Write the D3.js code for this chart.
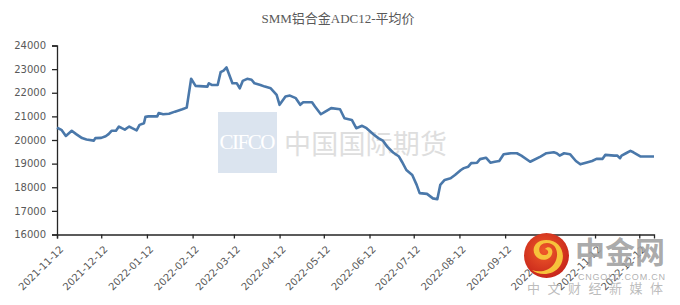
<!DOCTYPE html>
<html>
<head>
<meta charset="utf-8">
<script src="https://cdn.jsdelivr.net/npm/d3@7"></script>
<style>
  body { margin: 0; background: #fff; }
  #viz svg { display: block; }
</style>
</head>
<body>
<div id="viz"></div>
<script>
// values
const title = "SMM铝合金ADC12-平均价";

const dates = [
  "2021-11-12","2021-11-15","2021-11-18","2021-11-22","2021-11-25","2021-11-29","2021-12-02","2021-12-07",
  "2021-12-08","2021-12-12","2021-12-15","2021-12-17","2021-12-19","2021-12-22","2021-12-24","2021-12-26",
  "2021-12-28","2021-12-31","2022-01-02","2022-01-05","2022-01-07","2022-01-10","2022-01-11","2022-01-13",
  "2022-01-19","2022-01-20","2022-01-23","2022-01-27","2022-01-31","2022-02-05","2022-02-08","2022-02-11",
  "2022-02-14","2022-02-22","2022-02-23","2022-02-25","2022-03-01","2022-03-03","2022-03-05","2022-03-07",
  "2022-03-11","2022-03-14","2022-03-16","2022-03-18","2022-03-21","2022-03-24","2022-03-26","2022-03-30",
  "2022-04-02","2022-04-06","2022-04-10","2022-04-12","2022-04-16","2022-04-19","2022-04-23","2022-04-26",
  "2022-04-28","2022-05-04","2022-05-06","2022-05-10","2022-05-13","2022-05-17","2022-05-23","2022-05-26",
  "2022-05-31","2022-06-03","2022-06-07","2022-06-10","2022-06-15","2022-06-18","2022-06-21","2022-06-24",
  "2022-06-28","2022-07-02","2022-07-04","2022-07-07","2022-07-11","2022-07-14","2022-07-16","2022-07-21",
  "2022-07-25","2022-07-28","2022-07-30","2022-08-02","2022-08-06","2022-08-09","2022-08-13","2022-08-15",
  "2022-08-18","2022-08-20","2022-08-24","2022-08-26","2022-08-30","2022-09-02","2022-09-05","2022-09-08",
  "2022-09-11","2022-09-16","2022-09-20","2022-09-23","2022-09-29","2022-10-06","2022-10-10","2022-10-15",
  "2022-10-17","2022-10-19","2022-10-22","2022-10-26","2022-10-30","2022-11-02","2022-11-07","2022-11-10",
  "2022-11-13","2022-11-17","2022-11-19","2022-11-25","2022-11-27","2022-11-29","2022-11-30","2022-12-03",
  "2022-12-06","2022-12-08","2022-12-13","2022-12-22"
];

const prices = [
  20520,20430,20170,20390,20250,20080,20020,19975,
  20080,20090,20160,20250,20390,20390,20570,20500,
  20440,20570,20500,20410,20640,20710,20980,21000,
  21000,21140,21090,21110,21200,21300,21370,22590,
  22290,22260,22400,22330,22330,22870,22940,23070,
  22400,22400,22190,22500,22590,22550,22400,22330,
  22260,22190,21910,21490,21840,21880,21770,21490,
  21600,21600,21420,21090,21200,21350,21300,20920,
  20850,20500,20600,20500,20220,20080,19975,19720,
  19470,19300,19080,18730,18520,18100,17750,17720,
  17530,17490,18100,18310,18380,18520,18730,18810,
  18870,19020,19040,19190,19250,19040,19080,19110,
  19400,19440,19440,19340,19080,19300,19440,19480,
  19440,19340,19440,19400,19110,18970,19060,19110,
  19200,19200,19370,19340,19340,19230,19340,19440,
  19540,19480,19300,19300
];

const xTicks = [
  "2021-11-12","2021-12-12","2022-01-12","2022-02-12","2022-03-12","2022-04-12","2022-05-12",
  "2022-06-12","2022-07-12","2022-08-12","2022-09-12","2022-10-12","2022-11-12","2022-12-12"
];
const yTicks = [16000, 17000, 18000, 19000, 20000, 21000, 22000, 23000, 24000];

const width = 680, height = 305;
const parse = d3.timeParse("%Y-%m-%d");
const data = dates.map((d, i) => ({ date: parse(d), price: prices[i] }));

const svg = d3.select("#viz").append("svg")
    .attr("width", width)
    .attr("height", height)
    .style("background", "white");

const x = d3.scaleTime()
    .domain([parse("2021-11-12"), parse("2022-12-22")])
    .range([57, 654]);

const y = d3.scaleLinear()
    .domain([16000, 24000])
    .range([234.5, 45.5]);

// title
svg.append("text")
    .attr("x", 338)
    .attr("y", 23)
    .attr("text-anchor", "middle")
    .attr("fill", "#595959")
    .style("font-family", "'Liberation Serif', 'Noto Sans CJK SC', serif")
    .style("font-size", "13px")
    .text(title);

// CIFCO watermark (sits behind the line)
const wm = svg.append("g");
wm.append("rect")
    .attr("x", 218).attr("y", 112)
    .attr("width", 59).attr("height", 61)
    .attr("fill", "#dbe4ef");
wm.append("text")
    .attr("x", 247.5).attr("y", 149)
    .attr("text-anchor", "middle")
    .attr("fill", "#fff")
    .attr("textLength", 56)
    .style("font-family", "'Liberation Serif', serif")
    .style("font-size", "21px")
    .text("CIFCO");
wm.append("text")
    .attr("x", 284).attr("y", 154)
    .attr("fill", "#dedede")
    .attr("textLength", 163)
    .style("font-family", "'Noto Sans CJK SC', sans-serif")
    .style("font-size", "27px")
    .text("中国国际期货");

// y axis
const yAxis = svg.append("g")
    .attr("transform", "translate(57,0)")
    .call(d3.axisLeft(y).tickValues(yTicks).tickFormat(d3.format("d")).tickSize(5).tickPadding(6));

// x axis
const xAxis = svg.append("g")
    .attr("transform", "translate(0,234.5)")
    .call(d3.axisBottom(x).tickValues(xTicks.map(parse)).tickFormat(d3.timeFormat("%Y-%m-%d")).tickSize(4));

xAxis.selectAll("text")
    .attr("x", 0).attr("y", 0)
    .attr("dy", "0.35em")
    .attr("transform", "translate(4,13) rotate(-45)")
    .style("text-anchor", "end");

[xAxis, yAxis].forEach(g => {
    g.select(".domain").attr("stroke", "#262626").attr("stroke-width", 1.3);
    g.selectAll(".tick line").attr("stroke", "#262626").attr("stroke-width", 1.3);
    g.selectAll("text")
        .attr("fill", "#595959")
        .style("font-family", "'DejaVu Sans', sans-serif")
        .style("font-size", "10px");
});

// price line
const line = d3.line()
    .x(d => x(d.date))
    .y(d => y(d.price));

svg.append("path")
    .datum(data)
    .attr("d", line)
    .attr("fill", "none")
    .attr("stroke", "#4a78aa")
    .attr("stroke-width", 2.6)
    .attr("stroke-linejoin", "round");

// cngold logo in the bottom-right corner
const logo = svg.append("g");
const grad = svg.append("defs").append("radialGradient")
    .attr("id", "logoGrad").attr("cx", "45%").attr("cy", "40%").attr("r", "60%");
grad.append("stop").attr("offset", "0%").attr("stop-color", "#ef5a2a");
grad.append("stop").attr("offset", "100%").attr("stop-color", "#c8261b");
logo.append("circle")
    .attr("cx", 546.5).attr("cy", 255.5).attr("r", 22.5)
    .attr("fill", "url(#logoGrad)");
logo.append("path")
    .attr("d", "M546,240 C536,240 531,248 535,255 C539,262 550,261 552,254 C554,248 548,245 545,249 C550,250 549,256 543,255 C537,253 538,243 547,243 C557,243 560,255 554,264 C549,271 540,273 532,270 C539,276 553,276 560,266 C567,255 561,240 546,240 Z")
    .attr("fill", "#f7c23b");
logo.append("text")
    .attr("x", 575).attr("y", 263)
    .attr("fill", "#a0a0a0").attr("fill-opacity", 0.9)
    .attr("textLength", 90)
    .style("font-family", "'Noto Sans CJK SC', sans-serif")
    .style("font-weight", "bold")
    .style("font-size", "30px")
    .text("中金网");
logo.append("text")
    .attr("x", 578).attr("y", 280)
    .attr("fill", "#a8a8a8").attr("fill-opacity", 0.9)
    .attr("textLength", 87)
    .style("font-family", "'Liberation Sans', sans-serif")
    .style("font-size", "9px")
    .text("CNGOLD.COM.CN");
logo.append("text")
    .attr("x", 527).attr("y", 293)
    .attr("fill", "#b0b0b0").attr("fill-opacity", 0.85)
    .attr("textLength", 136)
    .style("font-family", "'Noto Sans CJK SC', sans-serif")
    .style("font-size", "13px")
    .text("中文财经新媒体");
</script>
</body>
</html>
